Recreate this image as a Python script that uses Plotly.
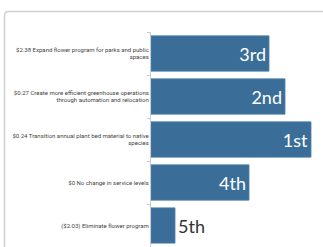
import plotly.graph_objects as go

categories = [
    "$2.38 Expand flower program for parks and public<br>spaces",
    "$0.27 Create more efficient greenhouse operations<br>through automation and relocation",
    "$0.24 Transition annual plant bed material to native<br>species",
    "$0 No change in service levels",
    "($2.03) Eliminate flower program",
]
scores = [118, 134, 160, 98, 24]
rank_labels = ["3rd", "2nd", "1st", "4th", "5th"]

W, H = 323, 247
ML, MT, MR, MB = 151, 32, 0, 0
pw, ph = W - ML - MR, H - MT - MB

def px(x):
    return (x - ML) / pw

def py(y):
    return 1 - (y - MT) / ph

bar_color = "#3a6e99"

fig = go.Figure(go.Bar(
    y=categories,
    x=scores,
    orientation="h",
    text=rank_labels,
    textposition=["inside", "inside", "inside", "inside", "outside"],
    insidetextanchor="end",
    insidetextfont=dict(color="white", size=18, family="Lato, Open Sans, sans-serif"),
    outsidetextfont=dict(color="#333333", size=18, family="Lato, Open Sans, sans-serif"),
    marker=dict(color=bar_color, line=dict(color="#4a80aa", width=0.8)),
    cliponaxis=False,
    hoverinfo="skip",
))

x0, x1 = px(4.5), px(340)
yt, yb = py(11.5), py(260)
r = 4
path = (f"M {x0},{yb} L {x0},{py(11.5 + r)} "
        f"Q {x0},{yt} {px(4.5 + r)},{yt} L {x1},{yt}")

fig.update_layout(
    width=W, height=H,
    margin=dict(l=ML, r=MR, t=MT, b=MB, pad=0),
    paper_bgcolor="white", plot_bgcolor="white",
    bargap=0.18,
    showlegend=False,
    uniformtext=dict(minsize=18, mode="show"),
    shapes=[dict(type="path", xref="paper", yref="paper", path=path,
                 line=dict(color="#cfcfcf", width=1.5), layer="below")],
    xaxis=dict(range=[0, pw], visible=False, fixedrange=True),
    yaxis=dict(
        autorange="reversed",
        showline=True, linecolor="#c5ccd6", linewidth=1,
        ticks="outside", tickson="boundaries", ticklen=3, tickcolor="#c5ccd6",
        tickfont=dict(size=6, color="#444444", family="Roboto, Lato, sans-serif"),
        showgrid=False, fixedrange=True,
    ),
)

fig.write_html(
    "out.html",
    config={"displayModeBar": False},
    post_script="document.body.style.margin='0';document.body.style.overflow='hidden';",
)
